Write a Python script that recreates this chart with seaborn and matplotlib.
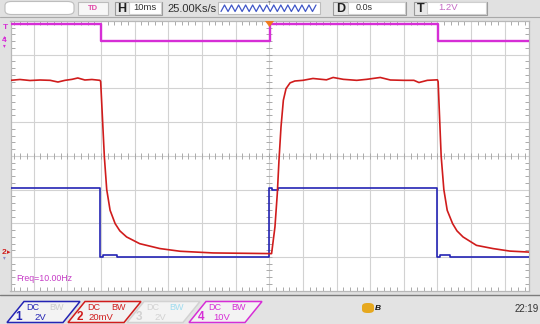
import numpy as np
import pandas as pd
import matplotlib
matplotlib.use("Agg")
import matplotlib.pyplot as plt
import seaborn as sns
from matplotlib.patches import Polygon, FancyBboxPatch, Rectangle
from matplotlib.lines import Line2D
from matplotlib.ticker import MultipleLocator

# ---------------- data ----------------
# time axis in ms (trigger at 0), 10 ms/div
ch1_time_ms = [-76.9, -50.2, -50.2, -49.5, -49.5, -45.3, -45.3, 0.0, 0.0, 0.7, 0.7, 2.7, 2.7,
               50.0, 50.0, 50.7, 50.7, 53.7, 53.7, 77.3]
ch1_volts = [4.1, 4.1, 0.0, 0.0, 0.12, 0.12, 0.0, 0.0, 4.1, 4.1, 4.0, 4.0, 4.1,
             4.1, 0.0, 0.0, 0.12, 0.12, 0.0, 0.0]

ch2_time_ms = [-76.9, -74.1, -71.1, -68.1, -65.1, -62.8, -60.7, -58.6, -56.9, -54.8, -52.7, -50.3,
               -50.1, -49.0, -48.3, -47.3, -45.8, -44.4, -42.4, -38.5, -32.5, -26.5, -16.7, -8.0,
               0.7, 1.7, 2.4, 2.9, 3.5, 4.2, 5.0, 6.2, 7.6, 10.0, 13.0, 17.0, 19.0, 22.0, 26.0,
               29.0, 33.0, 36.0, 40.0, 43.0, 44.5, 47.0, 50.0,
               50.2, 51.1, 51.9, 52.9, 54.5, 55.8, 57.6, 61.6, 66.5, 71.5, 77.3]
ch2_mv = [102.8, 103.3, 102.7, 103.0, 102.8, 101.8, 102.8, 103.4, 104.2, 103.0, 103.3, 102.8,
          102.0, 57.3, 38.0, 25.7, 17.8, 13.5, 9.9, 5.9, 3.0, 1.4, 0.4, 0.2,
          0.0, 15.8, 35.6, 55.4, 75.1, 91.0, 97.9, 101.3, 102.4, 102.8, 103.9, 103.1, 104.5, 103.4, 102.8,
          103.4, 104.5, 103.0, 102.8, 102.8, 101.5, 102.8, 103.1,
          102.0, 57.9, 38.0, 25.7, 17.8, 13.5, 9.9, 4.9, 3.0, 1.5, 0.9]

ch4_time_ms = [-76.9, -50.1, -50.1, 0.2, 0.2, 50.3, 50.3, 77.3]
ch4_volts = [5.0, 5.0, 0.0, 0.0, 5.0, 5.0, 0.0, 0.0]

channel_labels = ["1", "2", "3", "4"]
channel_scales = ["2V", "20mV", "2V", "10V"]
freq_text = "Freq=10.00Hz"
timebase_text = "10ms"
samplerate_text = "25.00Ks/s"
delay_text = "0.0s"
trig_level_text = "1.2V"
clock_text = "22:19"

# volts per division and ground offsets (in divisions)
ch1_scale, ch1_off = 2.0, -3.0
ch2_scale, ch2_off = 20.0, -2.9
ch4_scale, ch4_off = 10.0, 3.4

# ---------------- figure ----------------
sns.set_style("white")
plt.rcParams["font.family"] = ["Liberation Sans", "DejaVu Sans"]

W, H = 540, 324
fig = plt.figure(figsize=(5.4, 3.24), dpi=100, facecolor="#e1e1e1")


def fx(x):
    return x / W


def fy(y):
    return 1 - y / H


BLUE = "#2424b4"
RED = "#d01c1c"
MAG = "#d62ed6"
GRID = "#d2d2d2"
TICK = "#aaaaaa"

L, R, T, B = 10.5, 529.3, 21.0, 290.7
ax = fig.add_axes([fx(L), fy(B), (R - L) / W, (B - T) / H])
ax.set_facecolor("white")
ax.set_xlim(-76.9, 77.3)
ax.set_ylim(-4, 4)
ax.set_xticks(np.arange(-70, 71, 10))
ax.set_yticks(np.arange(-3, 4, 1))
ax.xaxis.set_minor_locator(MultipleLocator(2))
ax.yaxis.set_minor_locator(MultipleLocator(0.2))
ax.grid(True, which="major", color=GRID, lw=0.8)
ax.tick_params(which="both", direction="in", top=True, right=True, bottom=True, left=True,
               labelbottom=False, labelleft=False, color=TICK, width=0.7)
ax.tick_params(which="major", length=0)
ax.tick_params(which="minor", length=3)
for s in ax.spines.values():
    s.set_color("#b8b8b8")
    s.set_linewidth(0.9)

# centre cross-hair ticks
cx = np.arange(-76, 78, 2)
ax.plot(cx, np.zeros_like(cx), ls="none", marker="|", ms=4.5, mew=0.7, color=TICK, zorder=1)
cy = np.arange(-4, 4.01, 0.2)
ax.plot(np.zeros_like(cy), cy, ls="none", marker="_", ms=4.5, mew=0.7, color=TICK, zorder=1)

# traces
df4 = pd.DataFrame({"t": ch4_time_ms, "d": np.array(ch4_volts) / ch4_scale + ch4_off})
df1 = pd.DataFrame({"t": ch1_time_ms, "d": np.array(ch1_volts) / ch1_scale + ch1_off})
df2 = pd.DataFrame({"t": ch2_time_ms, "d": np.array(ch2_mv) / ch2_scale + ch2_off})
sns.lineplot(data=df4, x="t", y="d", ax=ax, color=MAG, lw=1.7, estimator=None, sort=False, zorder=4)
sns.lineplot(data=df1, x="t", y="d", ax=ax, color=BLUE, lw=1.2, estimator=None, sort=False, zorder=5)
sns.lineplot(data=df2, x="t", y="d", ax=ax, color=RED, lw=1.2, estimator=None, sort=False, zorder=6)
ax.set_xlabel("")
ax.set_ylabel("")

ax.text(0.012, 0.045, freq_text, transform=ax.transAxes, color="#c63cc6", fontsize=6.3,
        va="center", ha="left")

# ---------------- header ----------------
fig.add_artist(Line2D([0, 1], [fy(16.8), fy(16.8)], color="#a9a9a9", lw=0.8))


def box(x0, y0, x1, y1, fc="white", ec="#bdbdbd", rounded=False):
    if rounded:
        p = FancyBboxPatch((fx(x0), fy(y1)), fx(x1 - x0), (y1 - y0) / H,
                           boxstyle="round,pad=0,rounding_size=0.012",
                           fc=fc, ec=ec, lw=0.8, transform=fig.transFigure)
    else:
        p = Rectangle((fx(x0), fy(y1)), fx(x1 - x0), (y1 - y0) / H,
                      fc=fc, ec=ec, lw=0.8, transform=fig.transFigure)
    fig.add_artist(p)


box(5, 1.5, 74, 14.5, rounded=True)
box(78, 1.5, 108, 14.5, fc="#f7f7f7")
fig.text(fx(93), fy(8), "TD", color="#e04aa8", fontsize=5.5, fontweight="bold", ha="center", va="center")
box(115, 1.5, 162, 15, fc="#e8e8e8", ec="#9a9a9a")
box(129, 2.5, 161, 14, fc="white", ec="#cfcfcf")
fig.text(fx(121.5), fy(8.5), "H", fontsize=9, fontweight="bold", ha="center", va="center", color="#202020")
fig.text(fx(145), fy(7.8), timebase_text, fontsize=6.8, ha="center", va="center", color="#303030")
fig.text(fx(167), fy(9.3), samplerate_text, fontsize=8, ha="left", va="center", color="#303030")
box(218, 2.5, 320, 14)
zx = np.linspace(221, 316, 28)
zy = np.where(np.arange(28) % 2 == 0, 11.5, 5.0)
fig.add_artist(Line2D(fx(zx), fy(zy), color="#3f56c8", lw=0.9))
box(333, 1.5, 406, 15, fc="#e8e8e8", ec="#9a9a9a")
box(348, 2.5, 405, 14, fc="white", ec="#cfcfcf")
fig.text(fx(340.5), fy(8.5), "D", fontsize=9, fontweight="bold", ha="center", va="center", color="#202020")
fig.text(fx(356), fy(7.8), delay_text, fontsize=6.5, ha="left", va="center", color="#303030")
box(414, 1.5, 487, 15, fc="#e8e8e8", ec="#9a9a9a")
box(427, 2.5, 486, 14, fc="white", ec="#cfcfcf")
fig.text(fx(420.5), fy(8.5), "T", fontsize=9, fontweight="bold", ha="center", va="center", color="#202020")
fig.text(fx(438), fy(8), trig_level_text, fontsize=6.8, ha="left", va="center", color="#c46ac4")
fig.text(fx(269.5), fy(3.5), "T", fontsize=3.5, ha="center", va="center", color="#606060")

# trigger position marker
fig.add_artist(Polygon([[fx(265), fy(21)], [fx(274), fy(21)], [fx(269.5), fy(27)]],
                       closed=True, fc="#f07a1e", ec="none", transform=fig.transFigure, zorder=10))

# left channel markers
fig.text(fx(5), fy(27.5), "T", fontsize=6, ha="center", va="center", color=MAG, fontweight="bold")
fig.text(fx(4.5), fy(41), "4", fontsize=6, ha="center", va="center", color=MAG, fontweight="bold")
fig.text(fx(4.5), fy(36.5), "▴", fontsize=4, ha="center", va="center", color=MAG)
fig.text(fx(4.5), fy(45.5), "▾", fontsize=4, ha="center", va="center", color=MAG)
fig.text(fx(4.5), fy(253), "2", fontsize=6, ha="center", va="center", color=RED, fontweight="bold")
fig.text(fx(8.8), fy(253), "▸", fontsize=5, ha="center", va="center", color=RED)
fig.text(fx(4.5), fy(257.5), "▾", fontsize=4, ha="center", va="center", color="#8a8ac8")

# ---------------- bottom bar ----------------
fig.add_artist(Rectangle((0, fy(324)), 1, (324 - 295) / H, fc="#e3e3e3", ec="none",
                         transform=fig.transFigure))
fig.add_artist(Line2D([0, 1], [fy(294.5), fy(294.5)], color="#7c7c7c", lw=1.0))

box_x0 = [7, 68, 127, 189]
edge_cols = [BLUE, RED, "#d2d2d2", MAG]
dc_cols = [BLUE, RED, "#d2d2d2", MAG]
bw_cols = ["#cccccc", RED, "#9fdcef", MAG]
num_cols = [BLUE, RED, "#d2d2d2", MAG]
for x0, lab, sc, ec, dcc, bwc, nc in zip(box_x0, channel_labels, channel_scales,
                                          edge_cols, dc_cols, bw_cols, num_cols):
    verts = [[fx(x0), fy(322.5)], [fx(x0 + 17), fy(301.5)], [fx(x0 + 73), fy(301.5)], [fx(x0 + 56), fy(322.5)]]
    fig.add_artist(Polygon(verts, closed=True, fc="#f3f3f3", ec=ec, lw=1.1, transform=fig.transFigure))
    fig.text(fx(x0 + 12), fy(317), lab, fontsize=8.5, fontweight="bold", ha="center", va="center", color=nc)
    fig.text(fx(x0 + 25.5), fy(307), "DC", fontsize=6.5, ha="center", va="center", color=dcc)
    fig.text(fx(x0 + 50), fy(307), "BW", fontsize=6.5, ha="center", va="center", color=bwc)
    fig.text(fx(x0 + 33), fy(317.5), sc, fontsize=6.8, ha="center", va="center", color=dcc)

fig.add_artist(FancyBboxPatch((fx(362), fy(313)), fx(12), 10 / H,
                              boxstyle="round,pad=0,rounding_size=0.01",
                              fc="#e6a81e", ec="none", transform=fig.transFigure))
fig.text(fx(377.5), fy(308.5), "B", fontsize=6, fontweight="bold", style="italic",
         ha="center", va="center", color="#111111")
fig.text(fx(526.5), fy(309), clock_text, fontsize=7, ha="center", va="center", color="#333333")

fig.savefig("out.png", dpi=100, facecolor=fig.get_facecolor())
